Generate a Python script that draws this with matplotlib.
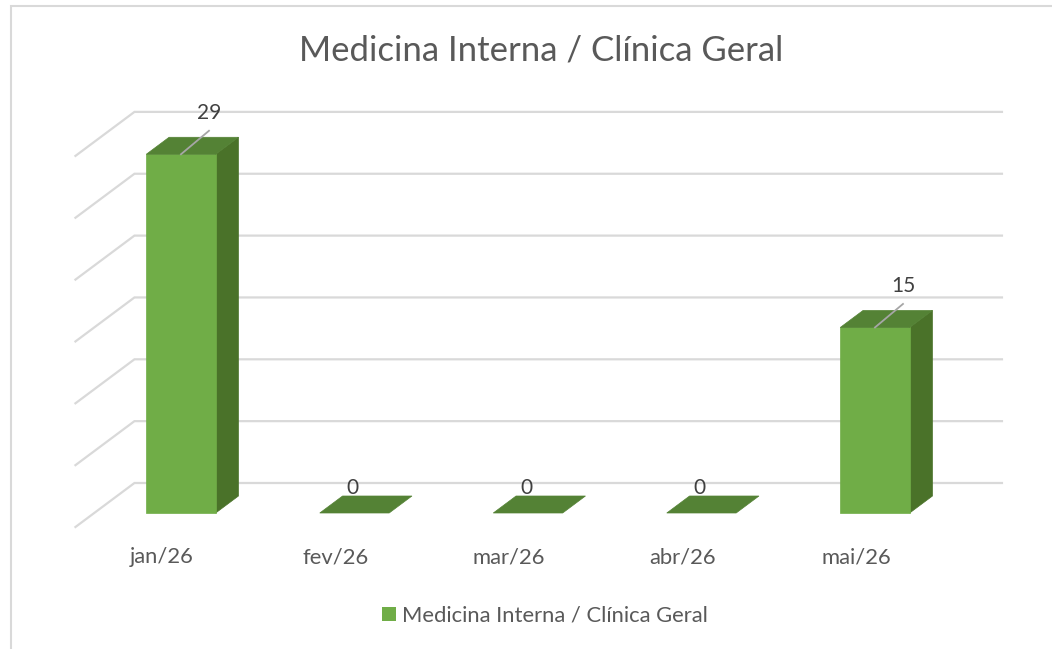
import matplotlib
matplotlib.use("Agg")
import matplotlib.pyplot as plt
from matplotlib.patches import Polygon, Patch, Rectangle

# ---- data ----
months = ["jan/26", "fev/26", "mar/26", "abr/26", "mai/26"]
values = [29, 0, 0, 0, 15]
series_name = "Medicina Interna / Clínica Geral"
title = "Medicina Interna / Clínica Geral"
y_max = 30
y_step = 5

# ---- style / geometry ----
W, H, DPI = 1052, 649, 100
PX_PER_CAT = 173.5        # pixels per category
PX_PER_VAL = 12.37        # pixels per value unit
ORIGIN_PX = (162.2, 527)  # pixel of (x=0, v=0, depth=0)
DEPTH_PX = (59, 44)       # pixel shift for full floor depth
BAR_HALF = 0.2
D_FRONT, D_BACK = 14 / 44, 31 / 44

FONT = ["Lato", "DejaVu Sans"]
C_FRONT = "#70AD47"
C_TOP = "#548235"
C_SIDE = "#4A7229"
C_GRID = "#D9D9D9"
C_TEXT = "#595959"
C_LABEL = "#404040"

fig = plt.figure(figsize=(W / DPI, H / DPI), dpi=DPI)
ax = fig.add_axes([0, 0, 1, 1])
ax.set_xlim((0 - ORIGIN_PX[0]) / PX_PER_CAT, (W - ORIGIN_PX[0]) / PX_PER_CAT)
ax.set_ylim((ORIGIN_PX[1] - H) / PX_PER_VAL, ORIGIN_PX[1] / PX_PER_VAL)
ax.axis("off")

DX = DEPTH_PX[0] / PX_PER_CAT
DY = DEPTH_PX[1] / PX_PER_VAL


def P(x, v, d):
    return (x + d * DX, v + d * DY)


n = len(months)
x_left, x_right = -0.5, n - 0.5

# gridlines on side wall + back wall
v = 0
while v <= y_max:
    pts = [P(x_left, v, 0), P(x_left, v, 1), P(x_right, v, 1)]
    ax.plot([p[0] for p in pts], [p[1] for p in pts], color=C_GRID,
            lw=1.6, solid_joinstyle="miter", zorder=1)
    v += y_step

# bars
for i, val in enumerate(values):
    xl, xr = i - BAR_HALF, i + BAR_HALF
    top = [P(xl, val, D_FRONT), P(xr, val, D_FRONT), P(xr, val, D_BACK), P(xl, val, D_BACK)]
    if val > 0:
        side = [P(xr, 0, D_FRONT), P(xr, 0, D_BACK), P(xr, val, D_BACK), P(xr, val, D_FRONT)]
        front = [P(xl, 0, D_FRONT), P(xr, 0, D_FRONT), P(xr, val, D_FRONT), P(xl, val, D_FRONT)]
        ax.add_patch(Polygon(side, closed=True, fc=C_SIDE, ec=C_SIDE, lw=0.5, zorder=3))
        ax.add_patch(Polygon(front, closed=True, fc=C_FRONT, ec=C_FRONT, lw=0.5, zorder=4))
    ax.add_patch(Polygon(top, closed=True, fc=C_TOP, ec=C_TOP, lw=0.5, zorder=4))

    # data label
    fx, fy = P(i, val, D_FRONT)
    if val > 0:
        lx = fx + 28 / PX_PER_CAT
        ly = fy + 41 / PX_PER_VAL
        ax.plot([fx, lx], [fy, fy + 23.5 / PX_PER_VAL], color="#A6A6A6", lw=1.3, zorder=5)
        ax.text(lx, ly, str(val), ha="center", va="center", fontsize=15,
                color=C_LABEL, family=FONT, zorder=6)
    else:
        ax.text(fx - 2 / PX_PER_CAT, fy + 25 / PX_PER_VAL, str(val), ha="center",
                va="center", fontsize=15, color=C_LABEL, family=FONT, zorder=6)

# category labels at the front edge of the floor
for i, m in enumerate(months):
    lx, ly = P(i, 0, 0)
    ax.text(lx, ly - 30 / PX_PER_VAL, m, ha="center", va="center", fontsize=15.8,
            color=C_TEXT, family=FONT)

# title
fig.text(541 / W, 1 - 50 / H, title, ha="center", va="center", fontsize=25,
         color=C_TEXT, family=FONT)

# legend
leg = fig.legend(handles=[Patch(facecolor=C_FRONT, edgecolor="none", label=series_name)],
                 loc="center", bbox_to_anchor=(545 / W, 1 - 616 / H), frameon=False,
                 handlelength=0.63, handleheight=0.63, handletextpad=0.3,
                 prop={"family": FONT, "size": 15.8}, labelcolor=C_TEXT)

# chart border (top and left visible)
fig.patches.append(Rectangle((11 / W, -0.1), 1.2, 1.1 - 6 / H + 0.0, transform=fig.transFigure,
                             fill=False, ec=C_GRID, lw=1.5, zorder=0))

fig.savefig("out.png", dpi=DPI)
